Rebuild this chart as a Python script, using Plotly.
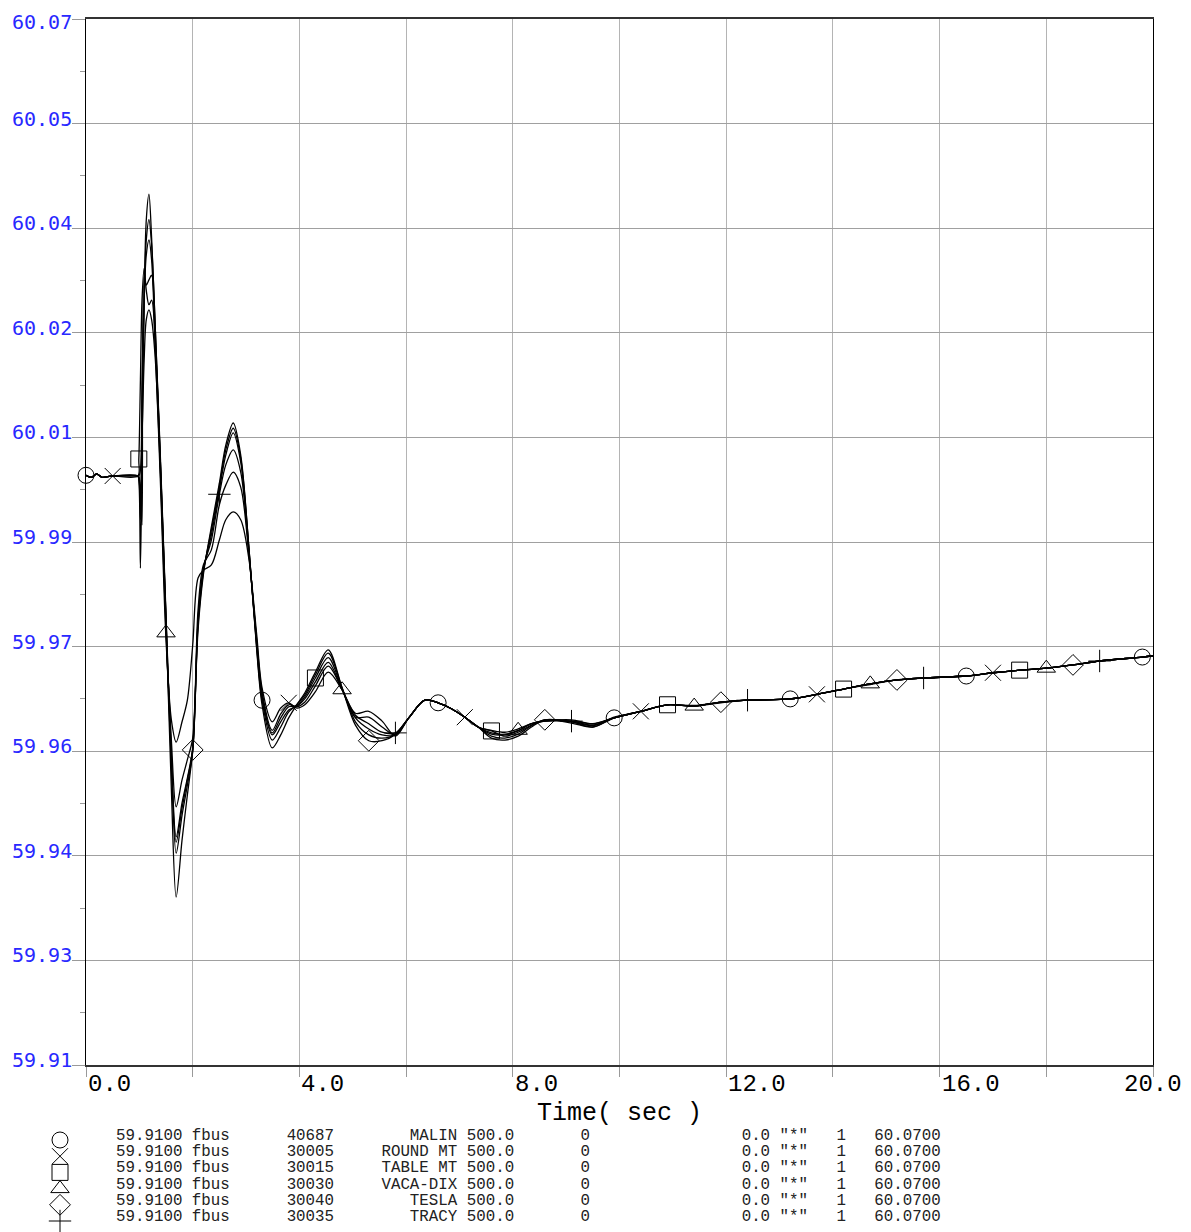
import numpy as np
import plotly.graph_objects as go

# ---------------- data ----------------
TIME = [0.0, 0.1, 0.2, 0.3, 0.5, 0.97,
        0.99, 1.02, 1.05, 1.09, 1.13, 1.18, 1.23, 1.3, 1.4, 1.5,
        1.6, 1.69, 1.8, 1.9, 2.0, 2.1, 2.2, 2.35, 2.5, 2.62,
        2.76, 2.9, 3.05, 3.2, 3.3, 3.49, 3.65, 3.8, 3.95, 4.1,
        4.3, 4.54, 4.8, 5.05, 5.3, 5.55, 5.8, 6.05, 6.35, 6.6,
        6.85, 7.1, 7.35, 7.6, 7.85, 8.1, 8.35, 8.6, 9.1, 9.5,
        9.9, 10.4, 10.9, 11.4, 11.9, 12.4, 13.2, 13.7, 14.2, 14.7,
        15.2, 15.7, 16.5, 17.0, 17.5, 18.0, 18.5, 19.0, 19.8, 20.0]

MALIN = [60.0002, 59.9999, 60.0004, 59.9999, 60.0001, 60.0001,
         59.9998, 59.9934, 60.0087, 60.0270, 60.0362, 60.0393, 60.0354, 60.0224, 60.0018, 59.9788,
         59.9567, 59.9424, 59.9482, 59.9528, 59.9579, 59.9773, 59.9854, 59.9918, 59.9984, 60.0041,
         60.0074, 60.0028, 59.9895, 59.9738, 59.9658, 59.9597, 59.9617, 59.9640, 59.9651, 59.9666,
         59.9697, 59.9730, 59.9677, 59.9625, 59.9605, 59.9600, 59.9606, 59.9631, 59.9658, 59.9654,
         59.9645, 59.9632, 59.9617, 59.9603, 59.9600, 59.9606, 59.9619, 59.9628, 59.9623, 59.9617,
         59.9631, 59.9641, 59.9651, 59.9649, 59.9655, 59.9658, 59.9660, 59.9667, 59.9675, 59.9683,
         59.9689, 59.9692, 59.9695, 59.9700, 59.9704, 59.9707, 59.9712, 59.9718, 59.9724, 59.9726]

ROUND_MT = [60.0002, 59.9999, 60.0004, 59.9999, 60.0001, 60.0001,
            60.0001, 60.0010, 60.0148, 60.0270, 60.0339, 60.0362, 60.0331, 60.0194, 59.9980, 59.9750,
            59.9628, 59.9594, 59.9625, 59.9658, 59.9742, 59.9845, 59.9857, 59.9865, 59.9903, 59.9934,
            59.9946, 59.9934, 59.9876, 59.9758, 59.9677, 59.9625, 59.9646, 59.9654, 59.9646, 59.9651,
            59.9671, 59.9701, 59.9674, 59.9638, 59.9641, 59.9626, 59.9603, 59.9631, 59.9658, 59.9654,
            59.9645, 59.9632, 59.9617, 59.9612, 59.9609, 59.9614, 59.9622, 59.9626, 59.9628, 59.9622,
            59.9631, 59.9641, 59.9651, 59.9649, 59.9655, 59.9658, 59.9660, 59.9667, 59.9675, 59.9683,
            59.9689, 59.9692, 59.9695, 59.9700, 59.9704, 59.9707, 59.9712, 59.9718, 59.9724, 59.9726]

TABLE_MT = [60.0002, 59.9999, 60.0004, 59.9999, 60.0001, 60.0001,
            60.0027, 60.0148, 60.0270, 60.0319, 60.0285, 60.0263, 60.0270, 60.0201, 60.0002, 59.9773,
            59.9559, 59.9441, 59.9493, 59.9536, 59.9582, 59.9778, 59.9857, 59.9911, 59.9980, 60.0033,
            60.0067, 60.0022, 59.9892, 59.9742, 59.9663, 59.9605, 59.9625, 59.9643, 59.9649, 59.9663,
            59.9692, 59.9723, 59.9675, 59.9631, 59.9614, 59.9605, 59.9605, 59.9631, 59.9658, 59.9654,
            59.9645, 59.9632, 59.9617, 59.9611, 59.9603, 59.9609, 59.9620, 59.9628, 59.9625, 59.9619,
            59.9632, 59.9641, 59.9651, 59.9649, 59.9654, 59.9658, 59.9660, 59.9667, 59.9675, 59.9682,
            59.9689, 59.9692, 59.9695, 59.9700, 59.9704, 59.9707, 59.9712, 59.9718, 59.9724, 59.9726]

VACA_DIX = [60.0002, 59.9999, 60.0004, 59.9999, 60.0001, 60.0001,
            60.0001, 59.9964, 60.0056, 60.0178, 60.0240, 60.0255, 60.0240, 60.0178, 59.9995, 59.9761,
            59.9597, 59.9495, 59.9536, 59.9567, 59.9600, 59.9796, 59.9865, 59.9888, 59.9957, 59.9987,
            60.0007, 59.9984, 59.9883, 59.9750, 59.9671, 59.9612, 59.9637, 59.9651, 59.9648, 59.9655,
            59.9680, 59.9710, 59.9674, 59.9632, 59.9632, 59.9617, 59.9605, 59.9631, 59.9658, 59.9654,
            59.9645, 59.9632, 59.9617, 59.9608, 59.9606, 59.9612, 59.9622, 59.9626, 59.9626, 59.9622,
            59.9631, 59.9641, 59.9651, 59.9649, 59.9655, 59.9658, 59.9660, 59.9667, 59.9675, 59.9683,
            59.9689, 59.9692, 59.9695, 59.9700, 59.9704, 59.9707, 59.9712, 59.9718, 59.9724, 59.9726]

TESLA = [60.0002, 59.9999, 60.0004, 59.9999, 60.0001, 60.0001,
         59.9995, 59.9860, 60.0041, 60.0270, 60.0393, 60.0432, 60.0365, 60.0224, 60.0010, 59.9781,
         59.9521, 59.9357, 59.9444, 59.9513, 59.9582, 59.9765, 59.9850, 59.9923, 59.9990, 60.0048,
         60.0082, 60.0033, 59.9895, 59.9735, 59.9651, 59.9585, 59.9605, 59.9631, 59.9651, 59.9669,
         59.9701, 59.9735, 59.9677, 59.9620, 59.9596, 59.9596, 59.9606, 59.9631, 59.9658, 59.9654,
         59.9645, 59.9632, 59.9617, 59.9600, 59.9597, 59.9603, 59.9617, 59.9628, 59.9625, 59.9617,
         59.9631, 59.9641, 59.9651, 59.9650, 59.9655, 59.9658, 59.9660, 59.9667, 59.9675, 59.9683,
         59.9689, 59.9692, 59.9695, 59.9700, 59.9704, 59.9707, 59.9712, 59.9718, 59.9724, 59.9726]

TRACY = [60.0002, 59.9999, 60.0004, 59.9999, 60.0001, 60.0001,
         59.9998, 59.9964, 59.9926, 60.0305, 60.0293, 60.0301, 60.0308, 60.0209, 60.0010, 59.9781,
         59.9574, 59.9449, 59.9501, 59.9539, 59.9585, 59.9781, 59.9860, 59.9903, 59.9973, 60.0018,
         60.0041, 60.0007, 59.9888, 59.9746, 59.9666, 59.9608, 59.9631, 59.9648, 59.9649, 59.9660,
         59.9686, 59.9716, 59.9674, 59.9635, 59.9622, 59.9609, 59.9608, 59.9631, 59.9658, 59.9654,
         59.9645, 59.9632, 59.9617, 59.9606, 59.9605, 59.9611, 59.9622, 59.9626, 59.9626, 59.9620,
         59.9631, 59.9641, 59.9651, 59.9649, 59.9655, 59.9658, 59.9660, 59.9667, 59.9675, 59.9683,
         59.9689, 59.9692, 59.9695, 59.9700, 59.9704, 59.9707, 59.9712, 59.9718, 59.9724, 59.9726]

SERIES = [MALIN, ROUND_MT, TABLE_MT, VACA_DIX, TESLA, TRACY]
BUS_NAMES = ["MALIN", "ROUND MT", "TABLE MT", "VACA-DIX", "TESLA", "TRACY"]
BUS_NUMBERS = [40687, 30005, 30015, 30030, 30040, 30035]
BASE_KV = 500.0
Y_MIN, Y_MAX = 59.91, 60.07

Y_TICKS = [59.91, 59.926, 59.942, 59.958, 59.974, 59.99, 60.006, 60.022, 60.038, 60.054, 60.07]
Y_TICK_LABELS = ["59.91", "59.93", "59.94", "59.96", "59.97", "59.99",
                 "60.01", "60.02", "60.04", "60.05", "60.07"]
X_TICK_VALUES = [0, 4, 8, 12, 16, 20]
X_TICK_LABELS = ["0.0", "4.0", "8.0", "12.0", "16.0", "20.0"]
X_TITLE = "Time( sec )"

# ---------------- style / layout (page pixels) ----------------
BODY = 8                      # default page margin around the plot div
W, H = 1191 - BODY, 1232 - BODY
PL, PR, PT, PB = 86, 1153, 19, 1065
SYMBOLS = ["circle-open", "x-thin-open", "square-open", "triangle-up-open",
           "diamond-open", "cross-thin-open"]
MARKER_STEP = 3.3
MARKER_OFFSET = 0.5
BLUE = "rgb(40,40,255)"
MONO = "Liberation Mono, Courier New, monospace"


def fx(p):          # page x pixel -> figure pixel
    return p - BODY


def fy(p):
    return p - BODY


def px_x(p):
    return fx(p) / W


def px_y(p):
    return 1 - fy(p) / H


fig = go.Figure()
t_arr = np.array(TIME)
for k, (ys, sym) in enumerate(zip(SERIES, SYMBOLS)):
    fig.add_trace(go.Scatter(
        x=TIME, y=ys, mode="lines",
        line=dict(color="black", width=1.3, shape="spline", smoothing=0.9),
        showlegend=False, hoverinfo="skip"))
    mt = np.arange(MARKER_OFFSET * k, 20.0 + 1e-9, MARKER_STEP)
    idx = [int(np.argmin(np.abs(t_arr - m))) for m in mt]
    fig.add_trace(go.Scatter(
        x=[TIME[i] for i in idx], y=[ys[i] for i in idx], mode="markers",
        marker=dict(symbol=sym, size=16, color="black", line=dict(color="black", width=1)),
        cliponaxis=False, showlegend=False, hoverinfo="skip"))

# legend symbols in a pixel-coordinate overlay axis
ROW0, ROW_H = 1136, 16.2
fig.add_trace(go.Scatter(
    x=[fx(60)] * len(SYMBOLS), y=[fy(ROW0 + 4 + ROW_H * i) for i in range(len(SYMBOLS))],
    mode="markers", xaxis="x2", yaxis="y2",
    marker=dict(symbol=SYMBOLS, size=16, color="black", line=dict(color="black", width=1)),
    cliponaxis=False, showlegend=False, hoverinfo="skip"))


def legend_row(name, bus):
    s = f"{Y_MIN:.4f} fbus".ljust(18) + str(bus)
    s += f"{name} {BASE_KV:.1f}".rjust(42 - len(s))
    s += "0".rjust(50 - len(s))
    s += "0.0".rjust(69 - len(s))
    s += ' "*"'
    s += "1".rjust(77 - len(s))
    s += f"{Y_MAX:.4f}".rjust(87 - len(s))
    return s.replace(" ", "\u00a0")


annotations = []
for i, (name, bus) in enumerate(zip(BUS_NAMES, BUS_NUMBERS)):
    annotations.append(dict(
        x=px_x(114), y=px_y(ROW0 + ROW_H * i), xref="paper", yref="paper",
        xanchor="left", yanchor="middle", showarrow=False,
        text=legend_row(name, bus), font=dict(family=MONO, size=15.8, color="#222")))

# y tick labels (sit just above their tick, as in the original)
YFONT = dict(family="DejaVu Sans Mono, monospace", size=20, color=BLUE)
for v, lab in zip(Y_TICKS, Y_TICK_LABELS):
    if v == Y_TICKS[-1]:
        # top label kept inside the page edge
        annotations.append(dict(
            x=px_x(74), y=1, xref="paper", yref="paper", xanchor="right", yanchor="top",
            showarrow=False, text=lab, font=YFONT))
    else:
        annotations.append(dict(
            x=px_x(74), y=v, xref="paper", yref="y", xanchor="right", yanchor="middle",
            yshift=5, showarrow=False, text=lab, font=YFONT))

# x tick labels (left-aligned on their tick; the last one centred)
for v, lab in zip(X_TICK_VALUES, X_TICK_LABELS):
    annotations.append(dict(
        x=v, y=px_y(1084), xref="x", yref="paper",
        xanchor="left" if v != X_TICK_VALUES[-1] else "center", yanchor="middle",
        showarrow=False, text=lab, font=dict(family=MONO, size=24, color="black")))

annotations.append(dict(
    x=10, y=px_y(1113), xref="x", yref="paper", xanchor="center", yanchor="middle",
    showarrow=False, text=X_TITLE.replace(" ", "\u00a0"),
    font=dict(family=MONO, size=25, color="black")))

fig.update_layout(
    width=W, height=H, autosize=False,
    margin=dict(l=0, r=0, t=0, b=0, pad=0, autoexpand=False),
    paper_bgcolor="white", plot_bgcolor="rgba(0,0,0,0)",
    showlegend=False,
    annotations=annotations,
    xaxis=dict(
        domain=[px_x(PL), px_x(PR)], range=[0, 20],
        tickmode="linear", tick0=0, dtick=2,
        showticklabels=False, ticks="outside", ticklen=10, tickcolor="#999", tickwidth=1,
        showgrid=True, gridcolor="#b4b4b4", gridwidth=1,
        showline=True, linecolor="#333", linewidth=1.5, mirror=True,
        zeroline=False, fixedrange=True),
    yaxis=dict(
        domain=[px_y(PB), px_y(PT)], range=[Y_MIN, Y_MAX],
        tickmode="array", tickvals=Y_TICKS, showticklabels=False,
        ticks="outside", ticklen=13, tickcolor="#999", tickwidth=1,
        minor=dict(ticks="outside", ticklen=5, tickcolor="#999", tickwidth=1,
                   tickmode="linear", tick0=Y_MIN, dtick=0.008, showgrid=False),
        showgrid=True, gridcolor="#a0a0a0", gridwidth=1,
        showline=True, linecolor="black", linewidth=1, mirror=True,
        zeroline=False, fixedrange=True),
    xaxis2=dict(domain=[0, 1], range=[0, W], visible=False, anchor="y2", fixedrange=True),
    yaxis2=dict(domain=[0, 1], range=[H, 0], visible=False, anchor="x2", fixedrange=True),
)

fig.write_html("out.html")
